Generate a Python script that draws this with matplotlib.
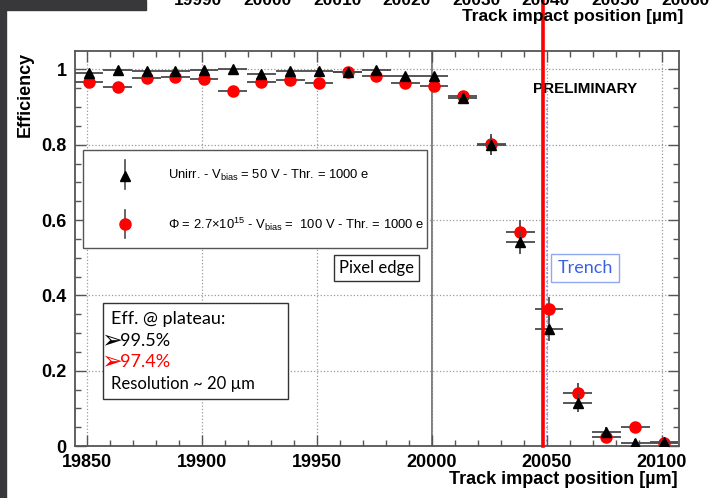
import matplotlib

matplotlib.use("Agg")
import matplotlib.pyplot as plt
from matplotlib.lines import Line2D
from matplotlib.patches import Rectangle
from matplotlib.ticker import MultipleLocator

# Bin centres [um] and efficiencies
positions = [19851, 19863.5, 19876, 19888.5, 19901, 19913.5, 19926, 19938.5,
             19951, 19963.5, 19976, 19988.5, 20001, 20013.5, 20026, 20038.5,
             20051, 20063.5, 20076, 20088.5, 20101]
eff_unirr = [0.990, 0.999, 0.996, 0.997, 0.998, 1.000, 0.989, 0.996,
             0.996, 0.993, 0.999, 0.983, 0.983, 0.923, 0.799, 0.541,
             0.310, 0.114, 0.038, 0.009, 0.011]
eff_irr = [0.966, 0.954, 0.978, 0.979, 0.974, 0.944, 0.967, 0.972,
           0.963, 0.993, 0.983, 0.963, 0.956, 0.930, 0.801, 0.569,
           0.365, 0.142, 0.025, 0.050, 0.007]
err_unirr = [0.008] * 13 + [0.012, 0.025, 0.03, 0.03, 0.025, 0.012, 0.01, 0.008]
err_irr = [0.01] * 13 + [0.012, 0.027, 0.03, 0.03, 0.025, 0.012, 0.012, 0.008]
bin_half = 6.25

top_ticks = [19990, 20000, 20010, 20020, 20030, 20040, 20050, 20060]
pixel_edge = 20000
trench = 20050
red_cut = 20048.3

W, H = 727, 498
plt.rcParams["font.family"] = ["Liberation Sans", "DejaVu Sans"]
plt.rcParams["mathtext.fontset"] = "custom"
plt.rcParams["mathtext.rm"] = "Liberation Sans"


def fx(x):
    return x / W


def fy(y):
    return 1 - y / H


fig = plt.figure(figsize=(W / 100, H / 100), dpi=100)
fig.patch.set_facecolor("white")

# screenshot frame (dark slide background)
fig.add_artist(Rectangle((0, 0), fx(6), 1, transform=fig.transFigure,
                         color="#38383a", zorder=0))
fig.add_artist(Rectangle((0, fy(10)), fx(146), 10 / H, transform=fig.transFigure,
                         color="#38383a", zorder=0))

ax = fig.add_axes([fx(75), fy(446), (679.3 - 75) / W, (446 - 51) / H])
ax.set_xlim(19844.9, 20107.7)
ax.set_ylim(0, 1.049)

ax.xaxis.set_major_locator(MultipleLocator(50))
ax.xaxis.set_minor_locator(MultipleLocator(10))
ax.yaxis.set_major_locator(MultipleLocator(0.2))
ax.yaxis.set_minor_locator(MultipleLocator(0.05))
ax.set_yticks([0, 0.2, 0.4, 0.6, 0.8, 1.0])
ax.set_yticklabels(["0", "0.2", "0.4", "0.6", "0.8", "1"])
ax.tick_params(which="both", direction="in", top=True, right=True,
               colors="#555555", labelcolor="black")
ax.tick_params(which="major", length=8, width=1.0, labelsize=13, pad=6)
ax.tick_params(which="minor", length=4, width=1.0)
for lab in ax.get_xticklabels() + ax.get_yticklabels():
    lab.set_fontweight("bold")
for sp in ax.spines.values():
    sp.set_color("#555555")
    sp.set_linewidth(1.3)
ax.grid(True, which="major", linestyle=":", color="#9a9a9a", linewidth=0.9)

# pixel edge and trench
ax.axvline(pixel_edge, color="#666666", linewidth=1.2, zorder=1)
ax.plot([trench, trench], [0, 0.876], transform=ax.get_xaxis_transform(),
        color="#7a8cf0", linestyle=":", linewidth=1.2, zorder=1)
ax.plot([red_cut, red_cut], [0, 1.13], transform=ax.get_xaxis_transform(),
        color="#ff0000", linewidth=2.6, clip_on=False, zorder=6)

ax.errorbar(positions, eff_irr, xerr=bin_half, yerr=err_irr, fmt="o",
            color="#ff0000", markersize=8, ecolor="#4a4a4a", elinewidth=1.3,
            capsize=0, zorder=3)
ax.errorbar(positions, eff_unirr, xerr=bin_half, yerr=err_unirr, fmt="^",
            color="black", markersize=7.5, ecolor="#4a4a4a", elinewidth=1.3,
            capsize=0, zorder=4)

ax.text(fx(533), fy(89), "PRELIMINARY", transform=fig.transFigure,
        fontsize=11, fontweight="bold", va="center", ha="left")

# legend box
fig.add_artist(Rectangle((fx(82.7), fy(248)), (426.7 - 82.7) / W, (248 - 150) / H,
                         transform=fig.transFigure, facecolor="white",
                         edgecolor="#555555", linewidth=1.0, zorder=5))
fig.add_artist(Line2D([fx(125), fx(125)], [fy(160), fy(189)], transform=fig.transFigure,
                      color="#4a4a4a", linewidth=1.2, zorder=6))
fig.add_artist(Line2D([fx(125)], [fy(176)], transform=fig.transFigure, marker="^",
                      color="black", markersize=7.5, zorder=7))
fig.add_artist(Line2D([fx(125), fx(125)], [fy(210), fy(238)], transform=fig.transFigure,
                      color="#4a4a4a", linewidth=1.2, zorder=6))
fig.add_artist(Line2D([fx(125)], [fy(224)], transform=fig.transFigure, marker="o",
                      color="#ff0000", markersize=8, zorder=7))
fig.text(fx(168), fy(175), r"Unirr. - V$_{\rm bias}$ = 50 V - Thr. = 1000 e",
         fontsize=9.4, va="center", zorder=7)
fig.text(fx(168), fy(224), r"$\Phi$ = 2.7$\times$10$^{15}$ - V$_{\rm bias}$ =  100 V - Thr. = 1000 e",
         fontsize=9.4, va="center", zorder=7)

# annotation boxes
cal = ["Lato", "DejaVu Sans"]
fig.text(fx(376), fy(268), "Pixel edge", family=cal, fontsize=12, ha="center",
         va="center", zorder=7,
         bbox=dict(boxstyle="square,pad=0.3", facecolor="white", edgecolor="#333333",
                   linewidth=1.0))
fig.text(fx(585), fy(268), "Trench", family=cal, fontsize=13, ha="center",
         va="center", color="#3a62e0", zorder=7,
         bbox=dict(boxstyle="square,pad=0.35", facecolor="white", edgecolor="#8fa8f0",
                   linewidth=1.0))

fig.add_artist(Rectangle((fx(102.7), fy(399)), (287.7 - 102.7) / W, (399 - 303.3) / H,
                         transform=fig.transFigure, facecolor="white",
                         edgecolor="#333333", linewidth=1.0, zorder=5))
fig.text(fx(110.7), fy(319), "Eff. @ plateau:", family=cal, fontsize=13,
         va="center", zorder=7)
fig.text(fx(101), fy(340), "\u27a2", family=["DejaVu Sans"], fontsize=18,
         va="center", zorder=8)
fig.text(fx(119.5), fy(341), "99.5%", family=cal, fontsize=13,
         va="center", zorder=7)
fig.text(fx(101), fy(361), "\u27a2", family=["DejaVu Sans"], fontsize=18,
         va="center", color="#ff0000", zorder=8)
fig.text(fx(119.5), fy(362), "97.4%", family=cal, fontsize=13,
         va="center", color="#ff0000", zorder=7)
fig.text(fx(110.7), fy(384), "Resolution ~ 20 \u00b5m", family=cal, fontsize=12,
         va="center", zorder=7)

# axis titles
fig.text(fx(678), fy(479), "Track impact position [\u00b5m]", fontsize=13,
         fontweight="bold", ha="right", va="center")
fig.text(fx(25), fy(52), "Efficiency", fontsize=13, fontweight="bold",
         rotation=90, ha="center", va="top")

# cropped axis of the plot above (only the bottom part is visible)
ax_top = fig.add_axes([fx(198), 1 + 7 / H, (685 - 198) / W, 0.02])
ax_top.set_xlim(19990, 20060)
ax_top.set_xticks(top_ticks)
ax_top.set_yticks([])
ax_top.patch.set_visible(False)
for sp in ax_top.spines.values():
    sp.set_visible(False)
ax_top.tick_params(axis="x", length=0, pad=0, labelsize=12.5)
for lab in ax_top.get_xticklabels():
    lab.set_fontweight("bold")
fig.text(fx(683), fy(16.5), "Track impact position [\u00b5m]", fontsize=12.5,
         fontweight="bold", ha="right", va="center")

fig.savefig("out.png", dpi=100)
